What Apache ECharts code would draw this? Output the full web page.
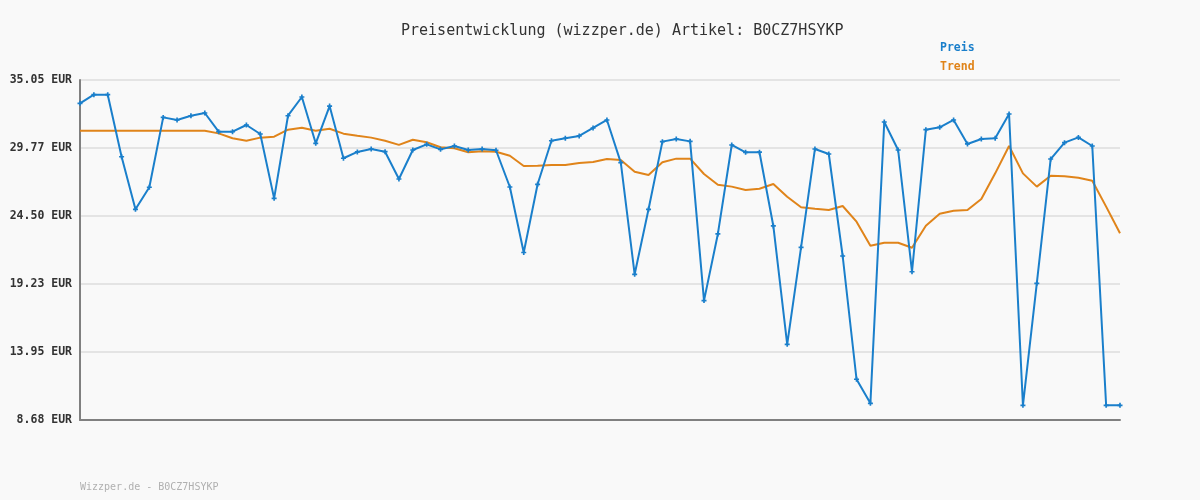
<!DOCTYPE html>
<html>
<head>
<meta charset="utf-8">
<script src="https://cdn.jsdelivr.net/npm/echarts@6/dist/echarts.min.js"></script>
<style>
html,body{margin:0;padding:0;background:#f9f9f9;}
#c{width:1200px;height:500px;}
</style>
</head>
<body>
<div id="c"></div>
<script>
const titleText = 'Preisentwicklung (wizzper.de) Artikel: B0CZ7HSYKP';
const footerText = 'Wizzper.de - B0CZ7HSYKP';
const yTicks = [8.68, 13.95, 19.23, 24.50, 29.77, 35.05];
const seriesNames = ['Preis', 'Trend'];
const categories = Array.from({length: 76}, (_, i) => String(i + 1));
const preis = [
  33.24, 33.91, 33.91, 29.10, 25.02, 26.73, 32.15, 31.95, 32.28, 32.49,
  31.04, 31.04, 31.56, 30.86, 25.87, 32.28, 33.73, 30.14, 33.03, 28.98,
  29.47, 29.70, 29.49, 27.37, 29.62, 30.06, 29.67, 29.93, 29.62, 29.70,
  29.60, 26.75, 21.67, 26.96, 30.34, 30.53, 30.71, 31.33, 31.95, 28.64,
  19.98, 25.02, 30.27, 30.47, 30.29, 17.94, 23.11, 30.01, 29.44, 29.45,
  23.73, 14.55, 22.07, 29.70, 29.31, 21.40, 11.84, 9.97, 31.79, 29.62,
  20.18, 31.20, 31.38, 31.95, 30.09, 30.47, 30.53, 32.41, 9.82, 19.28,
  28.92, 30.19, 30.60, 29.93, 9.82, 9.82
];
const trend = [
  31.12, 31.12, 31.12, 31.12, 31.12, 31.12, 31.12, 31.12, 31.12, 31.12,
  30.91, 30.53, 30.34, 30.58, 30.65, 31.20, 31.35, 31.12, 31.27, 30.89,
  30.73, 30.58, 30.34, 30.02, 30.42, 30.22, 29.83, 29.75, 29.44, 29.52,
  29.49, 29.18, 28.38, 28.40, 28.46, 28.46, 28.61, 28.69, 28.92, 28.85,
  27.94, 27.68, 28.67, 28.95, 28.95, 27.76, 26.93, 26.78, 26.52, 26.62,
  26.98, 26.00, 25.18, 25.07, 24.97, 25.28, 24.06, 22.20, 22.43, 22.43,
  22.04, 23.75, 24.68, 24.91, 24.97, 25.82, 27.81, 29.93, 27.81, 26.78,
  27.63, 27.58, 27.47, 27.24, 25.23, 23.16
];

const blue = '#1a7fcb';
const orange = '#e0841a';
const mono = '"DejaVu Sans Mono", "Liberation Mono", monospace';

const chart = echarts.init(document.getElementById('c'), null, {renderer: 'canvas'});
chart.setOption({
  backgroundColor: '#f9f9f9',
  animation: false,
  title: [{
    text: titleText,
    left: 396, top: 19,
    textStyle: {fontFamily: mono, fontSize: 15, fontWeight: 'normal', color: '#333'}
  }, {
    text: footerText,
    left: 75, top: 477,
    textStyle: {fontFamily: mono, fontSize: 10, fontWeight: 'normal', color: '#b0b0b0'}
  }],
  legend: {
    orient: 'vertical',
    left: 935, top: 37,
    itemWidth: 0, itemHeight: 0, itemGap: 7,
    icon: 'rect',
    data: [
      {name: seriesNames[0], textStyle: {color: blue}},
      {name: seriesNames[1], textStyle: {color: orange}}
    ],
    textStyle: {fontFamily: mono, fontSize: 11.5, fontWeight: 'bold', padding: [0,0,0,-5]},
    selectedMode: false
  },
  grid: {left: 80, right: 80, top: 80, bottom: 80, containLabel: false},
  xAxis: {
    type: 'category',
    data: categories,
    boundaryGap: false,
    axisLine: {show: true, lineStyle: {color: '#808080', width: 2}},
    axisTick: {show: false},
    axisLabel: {show: false},
    splitLine: {show: false}
  },
  yAxis: [{
    type: 'value',
    min: yTicks[0], max: yTicks[yTicks.length - 1],
    axisLine: {show: true, lineStyle: {color: '#808080', width: 2}},
    axisTick: {show: false},
    axisLabel: {show: false},
    splitLine: {show: false}
  }, {
    type: 'value',
    position: 'left',
    min: 0, max: yTicks.length - 1, interval: 1,
    axisLine: {show: false},
    axisTick: {show: false},
    axisLabel: {
      margin: 8,
      fontFamily: mono, fontSize: 11.5, fontWeight: 'bold', color: '#333',
      formatter: v => yTicks[Math.round(v)].toFixed(2) + ' EUR'
    },
    splitLine: {show: true, lineStyle: {color: '#e4e4e4', width: 2}}
  }],
  series: [{
    name: seriesNames[0],
    type: 'line',
    yAxisIndex: 0,
    data: preis,
    lineStyle: {color: blue, width: 2},
    itemStyle: {color: blue},
    symbol: 'path://M2,0H4V2H6V4H4V6H2V4H0V2H2Z',
    symbolSize: 5,
    showSymbol: true,
    z: 3
  }, {
    name: seriesNames[1],
    type: 'line',
    yAxisIndex: 0,
    data: trend,
    lineStyle: {color: orange, width: 2},
    itemStyle: {color: orange},
    symbol: 'none',
    z: 2
  }]
});
</script>
</body>
</html>
